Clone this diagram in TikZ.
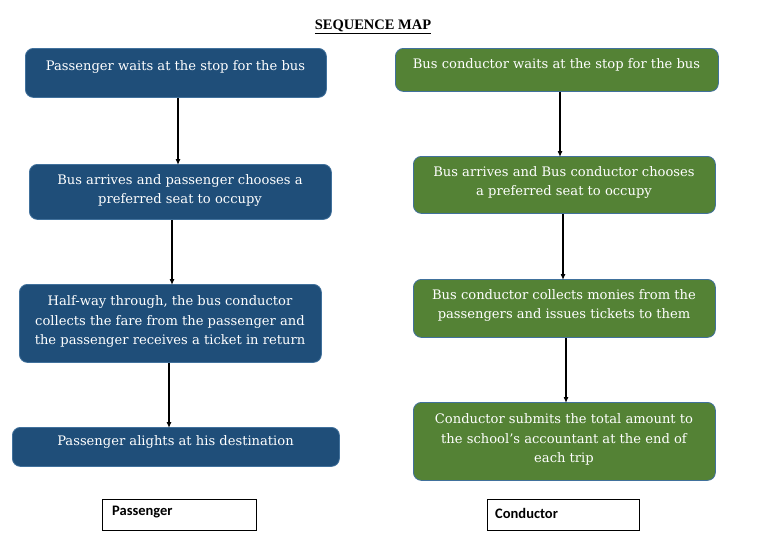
\documentclass[tikz,border=0pt]{standalone}
\usepackage{fontspec}
\setmainfont{Liberation Serif}
\newfontfamily\boxfont{DejaVu Serif}
\newfontfamily\legendfont{Carlito}
\usetikzlibrary{arrows.meta}
\definecolor{pblue}{HTML}{1F4E79}
\definecolor{cgreen}{HTML}{548235}
\definecolor{edgeblue}{HTML}{41719C}
\begin{document}
\begin{tikzpicture}[x=1pt,y=-1pt,
  box/.style={draw=edgeblue, line width=0.8pt, rounded corners=8pt, anchor=north west, inner sep=0pt},
  pbox/.style={box, fill=pblue},
  cbox/.style={box, fill=cgreen},
  btext/.style={text=white, font=\boxfont\fontsize{13.1}{19.5}\selectfont, align=center, inner sep=0pt},
  arr/.style={-{Latex[length=6pt,width=5pt]}, line width=1.1pt, black},
  legend/.style={draw=black, line width=0.6pt, anchor=north west, minimum width=154pt, minimum height=31pt, inner sep=0pt},
  legtext/.style={font=\legendfont\bfseries\fontsize{14.5}{16}\selectfont, anchor=west, inner sep=0pt}
]
\useasboundingbox (0,0) rectangle (760,539);
\fill[white] (0,0) rectangle (760,539);

\node[font=\bfseries\fontsize{14.5}{16}\selectfont, inner sep=0pt] (title) at (373,27) {\underline{SEQUENCE MAP}};

% passenger column
\node[pbox, minimum width=301pt, minimum height=49pt] (p1) at (25,48) {};
\node[btext] (p1t) at (175.5,67) {Passenger waits at the stop for the bus};
\node[pbox, minimum width=302pt, minimum height=55pt] (p2) at (29,164) {};
\node[btext] (p2t) at (180,190.5) {Bus arrives and passenger chooses a\\preferred seat to occupy};
\node[pbox, minimum width=302pt, minimum height=78pt] (p3) at (19,284) {};
\node[btext] (p3t) at (170,321.5) {Half-way through, the bus conductor\\collects the fare from the passenger and\\the passenger receives a ticket in return};
\node[pbox, minimum width=327pt, minimum height=39pt] (p4) at (12,427) {};
\node[btext] (p4t) at (175.5,442) {Passenger alights at his destination};

% conductor column
\node[cbox, minimum width=323pt, minimum height=43pt] (c1) at (395,48) {};
\node[btext] (c1t) at (556.5,65) {Bus conductor waits at the stop for the bus};
\node[cbox, minimum width=302pt, minimum height=57pt] (c2) at (413,156) {};
\node[btext] (c2t) at (564,182.5) {Bus arrives and Bus conductor chooses\\a preferred seat to occupy};
\node[cbox, minimum width=302pt, minimum height=58pt] (c3) at (413,279) {};
\node[btext] (c3t) at (564,305.5) {Bus conductor collects monies from the\\passengers and issues tickets to them};
\node[cbox, minimum width=302pt, minimum height=78pt] (c4) at (413,402) {};
\node[btext] (c4t) at (564,439.5) {Conductor submits the total amount to\\the school’s accountant at the end of\\each trip};

% arrow x positions
\coordinate (xa) at (178,0);
\coordinate (xb) at (172,0);
\coordinate (xc) at (169,0);
\coordinate (xd) at (560,0);
\coordinate (xe) at (563,0);
\coordinate (xf) at (566,0);
\draw[arr] (p1.south -| xa) -- ([yshift=-1pt]p2.north -| xa);
\draw[arr] (p2.south -| xb) -- ([yshift=-1pt]p3.north -| xb);
\draw[arr] (p3.south -| xc) -- ([yshift=-1pt]p4.north -| xc);
\draw[arr] (c1.south -| xd) -- ([yshift=-1pt]c2.north -| xd);
\draw[arr] (c2.south -| xe) -- ([yshift=-1pt]c3.north -| xe);
\draw[arr] (c3.south -| xf) -- ([yshift=-1pt]c4.north -| xf);

% legend
\node[legend] (lp) at (102,499) {};
\node[legtext] (lpt) at (112,512) {Passenger};
\node[legend, minimum width=152pt] (lc) at (487,499) {};
\node[legtext] (lct) at (495,513) {Conductor};
\end{tikzpicture}
\end{document}
